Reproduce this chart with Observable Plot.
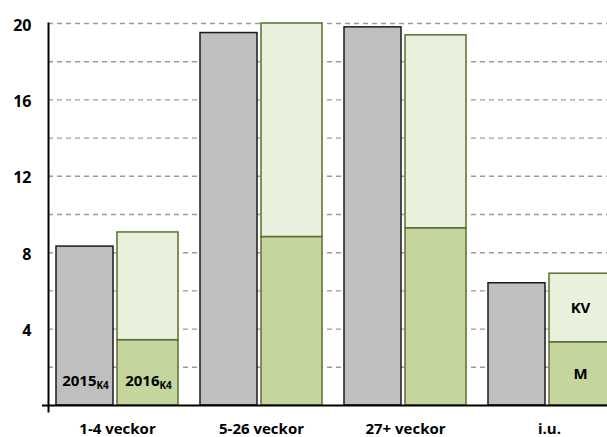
<!DOCTYPE html>
<html>
<head>
<meta charset="utf-8">
<script src="https://cdn.jsdelivr.net/npm/d3@7"></script>
<script src="https://cdn.jsdelivr.net/npm/@observablehq/plot@0.6"></script>
<style>
  html, body { margin: 0; padding: 0; background: #fff; overflow: hidden; }
  #chart svg { overflow: hidden; }
</style>
</head>
<body>
<div id="chart"></div>
<script>
const categories = ["1-4 veckor", "5-26 veckor", "27+ veckor", "i.u."];
const total2015 = [8.32, 19.5, 19.8, 6.4];
const m2016 = [3.42, 8.82, 9.28, 3.31];
const kv2016 = [5.64, 11.18, 10.1, 3.59];
const yTicks = [4, 8, 12, 16, 20];
const gridValues = [2, 4, 6, 8, 10, 12, 14, 16, 18, 20];

const gray = categories.map((c, i) => ({cat: c, y1: 0, y2: total2015[i]}));
const mBars = categories.map((c, i) => ({cat: c, y1: 0, y2: m2016[i]}));
const kvBars = categories.map((c, i) => ({cat: c, y1: m2016[i], y2: m2016[i] + kv2016[i]}));

const step = 144;
const font = "'Open Sans', 'Noto Sans', sans-serif";

const chart = Plot.plot({
  width: 607,
  height: 437,
  marginLeft: 48,
  marginRight: 0,
  marginTop: 23,
  marginBottom: 32,
  style: {fontFamily: font, fontWeight: "bold", fontSize: "15px", color: "#000", background: "#fff"},
  x: {domain: categories, range: [48, 48 + step * 4], padding: 0, axis: null},
  y: {domain: [0, 20], axis: null},
  marks: [
    Plot.ruleY(gridValues, {stroke: "#9a9a9a", strokeWidth: 1.4, strokeDasharray: "5,4", className: "grid"}),
    Plot.barY(gray, {x: "cat", y1: "y1", y2: "y2", fill: "#bfbfbf", stroke: "#1a1a1a", strokeWidth: 1.5, insetLeft: 8, insetRight: step - 65}),
    Plot.barY(mBars, {x: "cat", y1: "y1", y2: "y2", fill: "#c4d69e", stroke: "#5a7030", strokeWidth: 1.5, insetLeft: 69, insetRight: step - 130}),
    Plot.barY(kvBars, {x: "cat", y1: "y1", y2: "y2", fill: "#e9f0dd", stroke: "#5a7030", strokeWidth: 1.5, insetLeft: 69, insetRight: step - 130}),
    Plot.ruleY([0], {stroke: "#000", strokeWidth: 2, insetLeft: -6}),
    Plot.frame({anchor: "left", stroke: "#000", strokeWidth: 2, insetBottom: -6}),
    Plot.axisY({ticks: yTicks, tickSize: 0, tickPadding: 17, dy: 2, fontSize: 16, fontWeight: "bold", fill: "#000", label: null, tickFormat: d => String(d)}),
    Plot.text(categories, {x: d => d, y: 0, dy: 24, dx: -3, text: d => d, fontSize: 15, fontWeight: "bold", fill: "#000"}),
    Plot.text([categories[0]], {x: d => d, y: 0, dx: -35, dy: -24, text: () => "2015|K4", fontSize: 15, fontWeight: "bold", fill: "#000", className: "sub"}),
    Plot.text([categories[0]], {x: d => d, y: 0, dx: 28, dy: -24, text: () => "2016|K4", fontSize: 15, fontWeight: "bold", fill: "#000", className: "sub"}),
    Plot.text([categories[3]], {x: d => d, y: m2016[3] + kv2016[3] / 2, dx: 28, text: () => "KV", fontSize: 15, fontWeight: "bold", fill: "#000"}),
    Plot.text([categories[3]], {x: d => d, y: m2016[3] / 2, dx: 28, text: () => "M", fontSize: 15, fontWeight: "bold", fill: "#000"})
  ]
});
document.getElementById("chart").appendChild(chart);

d3.select(chart).selectAll("g.grid line").attr("stroke-dasharray", "5,4");

d3.select(chart).selectAll("g.sub text").each(function() {
  const t = d3.select(this);
  const [main, sub] = t.text().split("|");
  t.text(null);
  t.append("tspan").text(main);
  t.append("tspan").attr("font-size", 10).attr("dy", "0.3em").text(sub);
});
</script>
</body>
</html>
